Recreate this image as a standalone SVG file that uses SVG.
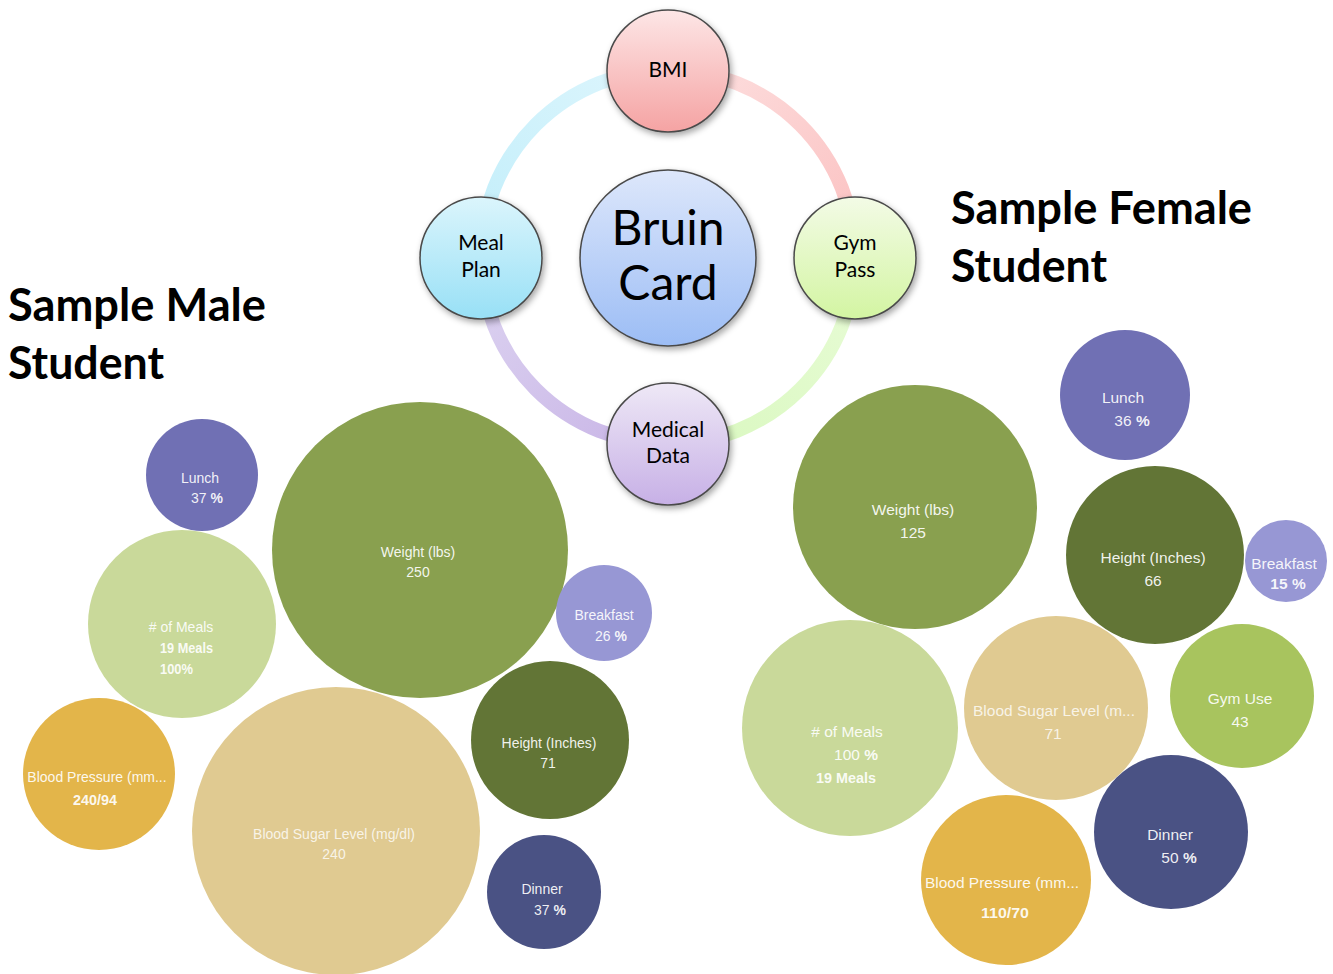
<svg xmlns="http://www.w3.org/2000/svg" width="1333" height="974" viewBox="0 0 1333 974">
<defs>
  <filter id="sh" x="-30%" y="-30%" width="160%" height="160%">
    <feDropShadow dx="2" dy="3" stdDeviation="3" flood-color="#000" flood-opacity="0.35"/>
  </filter>
  <linearGradient id="gBMI" x1="0" y1="0" x2="0" y2="1"><stop offset="0" stop-color="#fde6e6"/><stop offset="1" stop-color="#f5a3a3"/></linearGradient>
  <linearGradient id="gMeal" x1="0" y1="0" x2="0" y2="1"><stop offset="0" stop-color="#dbf5fc"/><stop offset="1" stop-color="#98e0f6"/></linearGradient>
  <linearGradient id="gGym" x1="0" y1="0" x2="0" y2="1"><stop offset="0" stop-color="#f3fbe6"/><stop offset="1" stop-color="#d3f5a2"/></linearGradient>
  <linearGradient id="gMed" x1="0" y1="0" x2="0" y2="1"><stop offset="0" stop-color="#eee8f6"/><stop offset="1" stop-color="#c7b0e6"/></linearGradient>
  <linearGradient id="gBruin" x1="0" y1="0" x2="0" y2="1"><stop offset="0" stop-color="#dde7fb"/><stop offset="1" stop-color="#9cbdf5"/></linearGradient>
  <linearGradient id="a1" gradientUnits="userSpaceOnUse" x1="668" y1="70" x2="855" y2="257"><stop offset="0" stop-color="#fde0e0"/><stop offset="1" stop-color="#fbc0c0"/></linearGradient>
  <linearGradient id="a2" gradientUnits="userSpaceOnUse" x1="855" y1="257" x2="668" y2="444"><stop offset="0" stop-color="#e8fcd6"/><stop offset="1" stop-color="#d9f8bf"/></linearGradient>
  <linearGradient id="a3" gradientUnits="userSpaceOnUse" x1="668" y1="444" x2="481" y2="257"><stop offset="0" stop-color="#c8b4e6"/><stop offset="1" stop-color="#ddd4f1"/></linearGradient>
  <linearGradient id="a4" gradientUnits="userSpaceOnUse" x1="481" y1="257" x2="668" y2="70"><stop offset="0" stop-color="#c2eefa"/><stop offset="1" stop-color="#def6fd"/></linearGradient>
  <style>
    .node { stroke: #4a4a4a; stroke-width: 1.5; filter: url(#sh); }
    .nt { font-family: Lato, "Open Sans", sans-serif; fill: #000; text-anchor: middle; font-size: 21px; }
    .big { font-size: 48px; }
    .title { font-family: Lato, "Open Sans", sans-serif; font-weight: bold; font-size: 46px; fill: #000; }
    .ring { fill: none; stroke-width: 14; }
    .bt { font-family: "Liberation Sans", Arial, sans-serif; font-size: 14px; fill: #fff; fill-opacity: 0.92; text-anchor: middle; }
    .ft { font-size: 15.5px; }
    .bb { font-family: "Liberation Sans Narrow", "Liberation Sans", Arial, sans-serif; font-weight: bold; }
    .faint { fill-opacity: 0.8; }
  </style>
</defs>
<rect width="1333" height="974" fill="#fff"/>

<g id="connectors">
  <path class="ring" stroke="url(#a1)" d="M668,70 A187,187 0 0 1 855,257"/>
  <path class="ring" stroke="url(#a2)" d="M855,257 A187,187 0 0 1 668,444"/>
  <path class="ring" stroke="url(#a3)" d="M668,444 A187,187 0 0 1 481,257"/>
  <path class="ring" stroke="url(#a4)" d="M481,257 A187,187 0 0 1 668,70"/>
</g>

<g id="bruin-card">
  <circle class="node" cx="668" cy="258" r="88" fill="url(#gBruin)"/>
  <text class="nt big" x="668" y="245">Bruin</text>
  <text class="nt big" x="668" y="300">Card</text>
</g>
<g id="bmi">
  <circle class="node" cx="668" cy="71" r="61" fill="url(#gBMI)"/>
  <text class="nt" x="668" y="77">BMI</text>
</g>
<g id="meal-plan">
  <circle class="node" cx="481" cy="258" r="61" fill="url(#gMeal)"/>
  <text class="nt" x="481" y="250">Meal</text>
  <text class="nt" x="481" y="277">Plan</text>
</g>
<g id="gym-pass">
  <circle class="node" cx="855" cy="258" r="61" fill="url(#gGym)"/>
  <text class="nt" x="855" y="250">Gym</text>
  <text class="nt" x="855" y="277">Pass</text>
</g>
<g id="medical-data">
  <circle class="node" cx="668" cy="444" r="61" fill="url(#gMed)"/>
  <text class="nt" x="668" y="437">Medical</text>
  <text class="nt" x="668" y="463">Data</text>
</g>

<g id="title-female">
  <text class="title" x="951" y="224" textLength="301" lengthAdjust="spacingAndGlyphs">Sample Female</text>
  <text class="title" x="951" y="282" textLength="156" lengthAdjust="spacingAndGlyphs">Student</text>
</g>
<g id="title-male">
  <text class="title" x="8" y="321" textLength="258" lengthAdjust="spacingAndGlyphs">Sample Male</text>
  <text class="title" x="8" y="379" textLength="156" lengthAdjust="spacingAndGlyphs">Student</text>
</g>

<!-- Male bubbles -->
<g id="m-lunch">
  <circle cx="202" cy="475" r="56" fill="#7070b4"/>
  <text class="bt" x="200" y="483">Lunch</text>
  <text class="bt" x="207" y="503">37 <tspan class="bb">%</tspan></text>
</g>
<g id="m-meals">
  <circle cx="182" cy="624" r="94" fill="#c9d99a"/>
  <text class="bt" x="181" y="632">&#35; of Meals</text>
  <text class="bt bb" x="160" y="653" text-anchor="start" textLength="53" lengthAdjust="spacingAndGlyphs" style="text-anchor:start">19 Meals</text>
  <text class="bt bb" x="160" y="674" textLength="33" lengthAdjust="spacingAndGlyphs" style="text-anchor:start">100%</text>
</g>
<g id="m-weight">
  <circle cx="420" cy="550" r="148" fill="#89a04f"/>
  <text class="bt" x="418" y="557">Weight (lbs)</text>
  <text class="bt" x="418" y="577">250</text>
</g>
<g id="m-breakfast">
  <circle cx="604" cy="613" r="48" fill="#9797d4"/>
  <text class="bt" x="604" y="620">Breakfast</text>
  <text class="bt" x="611" y="641">26 <tspan class="bb">%</tspan></text>
</g>
<g id="m-height">
  <circle cx="550" cy="740" r="79" fill="#627536"/>
  <text class="bt" x="549" y="748">Height (Inches)</text>
  <text class="bt" x="548" y="768">71</text>
</g>
<g id="m-bp">
  <circle cx="99" cy="774" r="76" fill="#e3b54a"/>
  <text class="bt" x="97" y="782">Blood Pressure (mm...</text>
  <text class="bt bb" x="73" y="805" textLength="44" lengthAdjust="spacingAndGlyphs" style="text-anchor:start">240/94</text>
</g>
<g id="m-sugar">
  <circle cx="336" cy="831" r="144" fill="#e0ca91"/>
  <text class="bt faint" x="334" y="839">Blood Sugar Level (mg/dl)</text>
  <text class="bt faint" x="334" y="859">240</text>
</g>
<g id="m-dinner">
  <circle cx="544" cy="892" r="57" fill="#4a5284"/>
  <text class="bt" x="542" y="894">Dinner</text>
  <text class="bt" x="550" y="915">37 <tspan class="bb">%</tspan></text>
</g>

<!-- Female bubbles -->
<g id="f-weight">
  <circle cx="915" cy="507" r="122" fill="#89a04f"/>
  <text class="bt ft" x="913" y="515">Weight (lbs)</text>
  <text class="bt ft" x="913" y="538">125</text>
</g>
<g id="f-lunch">
  <circle cx="1125" cy="395" r="65" fill="#7070b4"/>
  <text class="bt ft" x="1123" y="403">Lunch</text>
  <text class="bt ft" x="1132" y="426">36 <tspan class="bb">%</tspan></text>
</g>
<g id="f-height">
  <circle cx="1155" cy="555" r="89" fill="#627536"/>
  <text class="bt ft" x="1153" y="563">Height (Inches)</text>
  <text class="bt ft" x="1153" y="586">66</text>
</g>
<g id="f-breakfast">
  <circle cx="1286" cy="561" r="41" fill="#9797d4"/>
  <text class="bt ft" x="1284" y="569">Breakfast</text>
  <text class="bt ft bb" x="1288" y="589">15 %</text>
</g>
<g id="f-meals">
  <circle cx="850" cy="728" r="108" fill="#c9d99a"/>
  <text class="bt ft" x="847" y="737">&#35; of Meals</text>
  <text class="bt ft" x="856" y="760">100  <tspan class="bb">%</tspan></text>
  <text class="bt ft bb" x="846" y="783" textLength="60" lengthAdjust="spacingAndGlyphs">19 Meals</text>
</g>
<g id="f-sugar">
  <circle cx="1056" cy="708" r="92" fill="#e0ca91"/>
  <text class="bt ft faint" x="1054" y="716">Blood Sugar Level (m...</text>
  <text class="bt ft faint" x="1053" y="739">71</text>
</g>
<g id="f-gym">
  <circle cx="1242" cy="696" r="72" fill="#a8c45e"/>
  <text class="bt ft" x="1240" y="704">Gym Use</text>
  <text class="bt ft" x="1240" y="727">43</text>
</g>
<g id="f-dinner">
  <circle cx="1171" cy="832" r="77" fill="#4a5284"/>
  <text class="bt ft" x="1170" y="840">Dinner</text>
  <text class="bt ft" x="1179" y="863">50 <tspan class="bb">%</tspan></text>
</g>
<g id="f-bp">
  <circle cx="1006" cy="880" r="85" fill="#e3b54a"/>
  <text class="bt ft" x="1002" y="888">Blood Pressure (mm...</text>
  <text class="bt ft bb" x="1005" y="918" textLength="48" lengthAdjust="spacingAndGlyphs">110/70</text>
</g>
</svg>
